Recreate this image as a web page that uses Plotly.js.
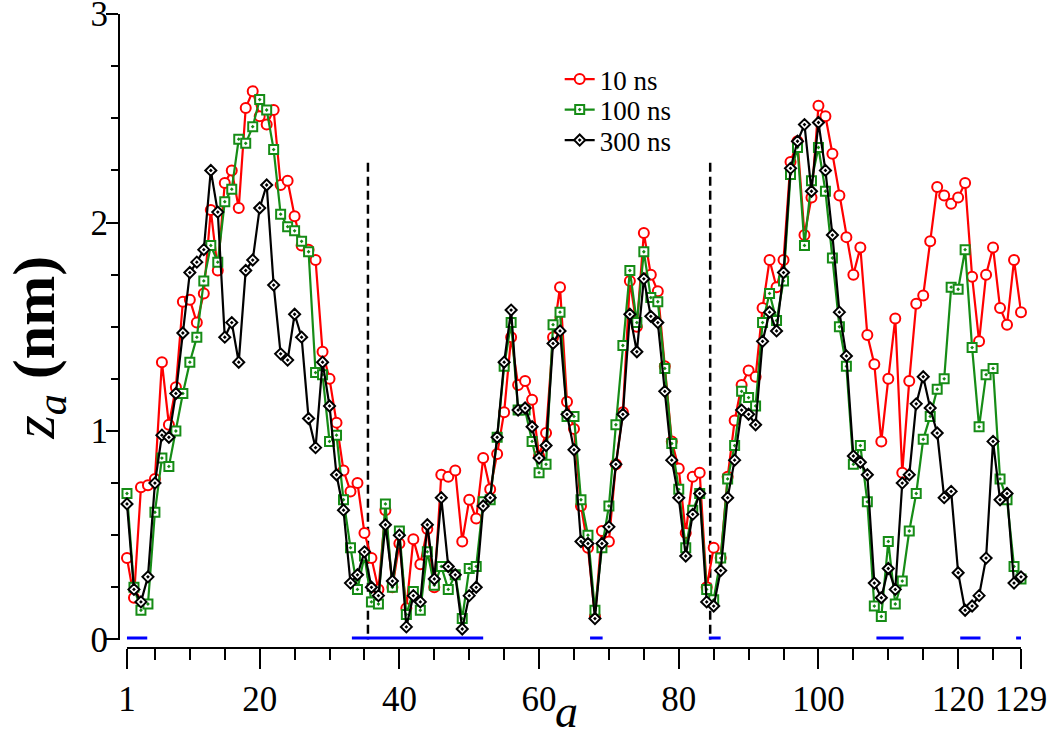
<!DOCTYPE html>
<html>
<head>
<meta charset="utf-8">
<script src="https://cdn.plot.ly/plotly-3.0.1.min.js"></script>
<style>
  html, body { margin: 0; padding: 0; background: #ffffff; }
  #chart { width: 1050px; height: 740px; }
</style>
</head>
<body>
<div id="chart"></div>
<script>
// ---------------- data ----------------
const residue = [1,2,3,4,5,6,7,8,9,10,11,12,13,14,15,16,17,18,19,20,
  21,22,23,24,25,26,27,28,29,30,31,32,33,34,35,36,37,38,39,40,
  41,42,43,44,45,46,47,48,49,50,51,52,53,54,55,56,57,58,59,60,
  61,62,63,64,65,66,67,68,69,70,71,72,73,74,75,76,77,78,79,80,
  81,82,83,84,85,86,87,88,89,90,91,92,93,94,95,96,97,98,99,100,
  101,102,103,104,105,106,107,108,109,110,111,112,113,114,115,116,117,118,119,120,
  121,122,123,124,125,126,127,128,129];

const z10ns = [0.39,0.20,0.73,0.74,0.77,1.33,1.03,1.21,1.62,1.63,
  1.52,1.66,2.06,1.77,2.19,2.25,2.07,2.55,2.63,2.51,
  2.47,2.54,2.18,2.20,2.03,1.89,1.87,1.82,1.38,1.25,
  1.04,0.81,0.71,0.75,0.51,0.39,0.24,0.62,0.25,0.46,
  0.15,0.48,0.36,0.53,0.25,0.79,0.78,0.81,0.47,0.67,
  0.58,0.87,0.72,0.89,1.09,1.45,1.22,1.24,1.15,0.88,
  0.99,1.45,1.69,1.14,1.01,0.64,0.44,0.11,0.52,0.47,
  0.84,1.09,1.72,1.50,1.95,1.75,1.67,1.31,0.95,0.82,
  0.51,0.78,0.80,0.25,0.44,0.39,0.78,1.05,1.22,1.29,
  1.26,1.59,1.82,1.69,1.82,2.29,2.39,1.94,2.12,2.56,
  2.51,2.33,2.13,1.93,1.75,1.88,1.46,1.32,0.95,1.25,
  1.54,0.80,1.24,1.61,1.65,1.91,2.17,2.13,2.09,2.12,
  2.19,1.74,1.43,1.75,1.88,1.59,1.51,1.82,1.57];

const z100ns = [0.70,0.25,0.14,0.17,0.61,0.87,0.83,1.00,1.18,1.33,
  1.45,1.72,1.89,1.81,2.10,2.16,2.40,2.38,2.46,2.59,
  2.54,2.35,2.04,1.98,1.96,1.91,1.86,1.28,1.27,0.95,
  0.98,0.67,0.44,0.24,0.40,0.18,0.17,0.65,0.25,0.52,
  0.12,0.23,0.14,0.42,0.26,0.35,0.24,0.31,0.10,0.34,
  0.35,0.66,0.67,0.97,1.31,1.52,1.10,1.10,0.95,0.80,
  0.84,1.51,1.57,1.07,1.07,0.67,0.50,0.14,0.44,0.64,
  1.03,1.41,1.77,1.52,1.86,1.64,1.62,1.30,0.94,0.72,
  0.44,0.62,0.70,0.24,0.19,0.39,0.77,0.93,1.19,1.16,
  1.12,1.52,1.66,1.53,1.72,2.23,2.36,1.89,2.20,2.36,
  2.15,1.83,1.50,1.31,0.84,0.93,0.66,0.16,0.11,0.47,
  0.17,0.28,0.52,0.70,0.96,1.07,1.20,1.25,1.69,1.68,
  1.87,1.40,1.02,1.27,1.30,0.77,0.67,0.35,0.29];

const z300ns = [0.65,0.24,0.18,0.30,0.75,0.98,0.97,1.18,1.47,1.76,
  1.81,1.87,2.25,2.05,1.45,1.52,1.33,1.77,1.82,2.07,
  2.18,1.70,1.37,1.34,1.56,1.45,1.06,0.92,1.33,1.12,
  0.79,0.62,0.27,0.31,0.42,0.25,0.21,0.55,0.28,0.50,
  0.06,0.21,0.18,0.55,0.29,0.68,0.35,0.31,0.05,0.21,
  0.25,0.64,0.68,0.97,1.33,1.58,1.10,1.11,1.02,0.87,
  0.93,1.42,1.48,1.08,0.91,0.47,0.46,0.10,0.46,0.54,
  0.84,1.08,1.56,1.38,1.73,1.55,1.52,1.19,0.86,0.68,
  0.40,0.60,0.70,0.18,0.16,0.33,0.68,0.86,1.10,1.08,
  1.03,1.43,1.57,1.48,1.76,2.26,2.39,2.47,2.15,2.48,
  2.25,1.94,1.57,1.36,0.88,0.85,0.79,0.27,0.20,0.34,
  0.24,0.75,0.79,1.13,1.26,1.11,0.99,0.68,0.71,0.32,
  0.14,0.16,0.21,0.39,0.95,0.67,0.70,0.27,0.30];

const seriesNames = ['10 ns', '100 ns', '300 ns'];

// blue segments along the baseline (start / end residue)
const segStart = [1.0, 33.2, 67.3, 84.3, 108.3, 120.3, 128.3];
const segEnd   = [3.9, 52.0, 69.1, 86.0, 112.2, 123.2, 129.2];

// dashed dividers
const dividerA = [35.5, 84.5];
const dividerTop = 2.30;

// ticks
const xTickVals = [1, 20, 40, 60, 80, 100, 120, 129];
const xTickText = ['1', '20', '40', '60', '80', '100', '120', '129'];
const xMinorVals = [5,10,15,25,30,35,45,50,55,65,70,75,85,90,95,105,110,115,125];
const yTickVals = [0, 1, 2, 3];

// ---------------- traces ----------------
const FONT = '"Liberation Serif", "Times New Roman", serif';
const segX = [], segY = [];
for (let i = 0; i < segStart.length; i++) {
  segX.push(segStart[i], segEnd[i], null);
  segY.push(0, 0, null);
}

const traces = [
  {
    x: segX, y: segY, mode: 'lines', type: 'scatter',
    line: { color: '#0000ff', width: 6 },
    showlegend: false, hoverinfo: 'skip', cliponaxis: false
  },
  {
    x: residue, y: z10ns, name: seriesNames[0], mode: 'lines+markers', type: 'scatter',
    line: { color: '#ff0000', width: 2.2 },
    marker: { symbol: 'circle', size: 10, color: '#ffffff', line: { color: '#ff0000', width: 2 } },
    cliponaxis: false, legend: 'legend'
  },
  {
    x: residue, y: z100ns, name: seriesNames[1], mode: 'lines+markers', type: 'scatter',
    line: { color: '#168c16', width: 2.2 },
    marker: { symbol: 'square-dot', size: 9, color: '#ffffff', line: { color: '#168c16', width: 2 } },
    cliponaxis: false, legend: 'legend2'
  },
  {
    x: residue, y: z300ns, name: seriesNames[2], mode: 'lines+markers', type: 'scatter',
    line: { color: '#000000', width: 2.2 },
    marker: { symbol: 'diamond-dot', size: 8.5, color: '#ffffff', line: { color: '#000000', width: 2 } },
    cliponaxis: false, legend: 'legend3'
  }
];

const shapes = dividerA.map(a => ({
  type: 'line', xref: 'x', yref: 'y',
  x0: a, x1: a, y0: -0.04, y1: dividerTop,
  line: { color: '#000000', width: 2.5, dash: '9px,5px' }, layer: 'below'
}));
// x-axis baseline spanning from first to last residue
shapes.push({
  type: 'line', xref: 'x', yref: 'paper',
  x0: residue[0], x1: residue[residue.length - 1], y0: 0, y1: 0,
  line: { color: '#000000', width: 2 }
});

function legendBox(yTop) {
  return {
    x: 0.488, y: yTop, xanchor: 'left', yanchor: 'top',
    bgcolor: 'rgba(0,0,0,0)', borderwidth: 0,
    font: { family: FONT, size: 27, color: '#000000' }
  };
}

const layout = {
  width: 1050, height: 740,
  margin: { l: 120, r: 29, t: 14, b: 92 },
  paper_bgcolor: '#ffffff', plot_bgcolor: '#ffffff',
  font: { family: FONT, color: '#000000', size: 35 },
  showlegend: true,
  legend: legendBox(0.9353),
  legend2: legendBox(0.8872),
  legend3: legendBox(0.8391),
  xaxis: {
    range: [0, 129], anchor: 'free', position: 0,
    showline: false, zeroline: false, showgrid: false,
    ticks: 'outside', ticklen: 20, tickwidth: 2, tickcolor: '#000000',
    tickmode: 'array', tickvals: xTickVals, ticktext: xTickText,
    tickfont: { family: FONT, size: 35, color: '#000000' },
    ticklabeloverflow: 'allow',
    minor: { tickmode: 'array', tickvals: xMinorVals, ticks: 'outside', ticklen: 11, tickwidth: 2, tickcolor: '#000000' }
  },
  yaxis: {
    range: [-0.0005, 3.0005], domain: [0.0134, 1],
    showline: true, linewidth: 2, linecolor: '#000000',
    zeroline: false, showgrid: false,
    ticks: 'outside', ticklen: 12, tickwidth: 2, tickcolor: '#000000',
    tickmode: 'array', tickvals: yTickVals,
    tickfont: { family: FONT, size: 35, color: '#000000' },
    ticklabeloverflow: 'allow', ticklabelstandoff: -9,
    minor: { dtick: 0.25, tick0: 0, ticks: 'outside', ticklen: 7, tickwidth: 2, tickcolor: '#000000' }
  },
  shapes: shapes,
  annotations: [
    {
      text: '<i>a</i>', xref: 'paper', yref: 'paper',
      x: 0.496, y: -0.1435, xanchor: 'center', yanchor: 'bottom',
      showarrow: false, font: { family: FONT, size: 46, color: '#000000' }
    },
    {
      text: '<i>z</i><sub><i>a</i></sub> <b>(nm)</b>', xref: 'paper', yref: 'paper',
      x: -0.091, y: 0.474, xanchor: 'center', yanchor: 'middle', textangle: -90,
      showarrow: false, font: { family: FONT, size: 60, color: '#000000' }
    }
  ]
};

Plotly.newPlot('chart', traces, layout, { displayModeBar: false, staticPlot: true });
</script>
</body>
</html>
